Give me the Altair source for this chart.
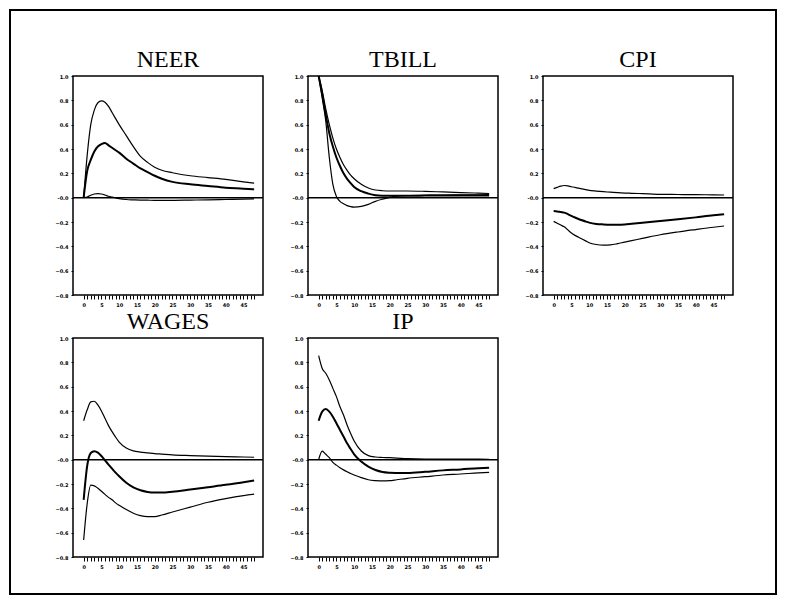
import altair as alt
import pandas as pd

# horizon (months)
X = [0, 1, 2, 3, 4, 5, 6, 7, 8, 9, 10, 12, 14, 16, 18, 20, 22, 25, 30, 35, 40, 45, 48]

TITLES = ["NEER", "TBILL", "CPI", "WAGES", "IP"]

NEER_UPPER = [0.0, 0.35, 0.60, 0.72, 0.78, 0.795, 0.785, 0.75, 0.70, 0.65, 0.60, 0.51, 0.42, 0.34, 0.29, 0.25, 0.225, 0.205, 0.18, 0.165, 0.15, 0.13, 0.12]
NEER_MID = [0.0, 0.22, 0.31, 0.38, 0.42, 0.44, 0.45, 0.43, 0.41, 0.39, 0.37, 0.32, 0.28, 0.24, 0.21, 0.18, 0.156, 0.13, 0.11, 0.096, 0.082, 0.074, 0.068]
NEER_LOWER = [0.0, 0.005, 0.02, 0.03, 0.033, 0.03, 0.022, 0.012, 0.005, -0.002, -0.008, -0.015, -0.018, -0.02, -0.021, -0.022, -0.022, -0.022, -0.02, -0.018, -0.015, -0.012, -0.01]

TBILL_UPPER = [1.0, 0.88, 0.73, 0.60, 0.49, 0.40, 0.33, 0.27, 0.225, 0.185, 0.156, 0.11, 0.08, 0.063, 0.057, 0.055, 0.055, 0.055, 0.052, 0.047, 0.042, 0.037, 0.034]
TBILL_MID = [1.0, 0.85, 0.68, 0.53, 0.42, 0.33, 0.26, 0.20, 0.155, 0.12, 0.088, 0.053, 0.033, 0.02, 0.016, 0.015, 0.015, 0.016, 0.017, 0.018, 0.018, 0.018, 0.018]
TBILL_LOWER = [1.0, 0.82, 0.63, 0.33, 0.11, 0.01, -0.03, -0.05, -0.065, -0.073, -0.077, -0.072, -0.055, -0.03, -0.012, 0.003, 0.012, 0.018, 0.02, 0.022, 0.023, 0.024, 0.025]

CPI_UPPER = [0.074, 0.085, 0.095, 0.10, 0.097, 0.09, 0.085, 0.078, 0.072, 0.066, 0.06, 0.054, 0.049, 0.045, 0.041, 0.038, 0.036, 0.033, 0.027, 0.026, 0.025, 0.023, 0.022]
CPI_MID = [-0.11, -0.113, -0.118, -0.123, -0.135, -0.15, -0.163, -0.175, -0.186, -0.196, -0.205, -0.216, -0.22, -0.222, -0.222, -0.22, -0.215, -0.207, -0.192, -0.178, -0.162, -0.145, -0.137]
CPI_LOWER = [-0.195, -0.21, -0.225, -0.24, -0.265, -0.29, -0.31, -0.325, -0.34, -0.355, -0.37, -0.385, -0.39, -0.388, -0.378, -0.365, -0.353, -0.335, -0.305, -0.282, -0.262, -0.243, -0.233]

WAGES_UPPER = [0.32, 0.41, 0.475, 0.48, 0.45, 0.40, 0.34, 0.28, 0.23, 0.185, 0.145, 0.096, 0.072, 0.062, 0.056, 0.05, 0.046, 0.04, 0.034, 0.029, 0.025, 0.022, 0.02]
WAGES_MID = [-0.33, -0.05, 0.055, 0.07, 0.058, 0.03, -0.005, -0.04, -0.074, -0.107, -0.137, -0.19, -0.228, -0.252, -0.265, -0.27, -0.27, -0.263, -0.245, -0.226, -0.207, -0.185, -0.172]
WAGES_LOWER = [-0.66, -0.36, -0.21, -0.215, -0.235, -0.26, -0.285, -0.31, -0.33, -0.355, -0.375, -0.41, -0.44, -0.46, -0.468, -0.468, -0.455, -0.43, -0.39, -0.35, -0.32, -0.295, -0.283]

IP_UPPER = [0.855, 0.75, 0.71, 0.655, 0.586, 0.518, 0.435, 0.367, 0.285, 0.216, 0.153, 0.071, 0.033, 0.022, 0.018, 0.016, 0.013, 0.008, 0.005, 0.005, 0.005, 0.004, 0.003]
IP_MID = [0.32, 0.395, 0.416, 0.395, 0.353, 0.30, 0.244, 0.19, 0.134, 0.088, 0.044, -0.016, -0.058, -0.085, -0.101, -0.107, -0.109, -0.11, -0.10, -0.088, -0.08, -0.07, -0.066]
IP_LOWER = [0.0, 0.07, 0.044, 0.016, -0.022, -0.045, -0.066, -0.084, -0.10, -0.114, -0.126, -0.148, -0.165, -0.172, -0.175, -0.173, -0.165, -0.153, -0.14, -0.126, -0.118, -0.108, -0.104]

SERIES = [
    (NEER_UPPER, NEER_MID, NEER_LOWER),
    (TBILL_UPPER, TBILL_MID, TBILL_LOWER),
    (CPI_UPPER, CPI_MID, CPI_LOWER),
    (WAGES_UPPER, WAGES_MID, WAGES_LOWER),
    (IP_UPPER, IP_MID, IP_LOWER),
]

X_TICKS = list(range(0, 49))
Y_TICKS = [-0.8, -0.6, -0.4, -0.2, 0.0, 0.2, 0.4, 0.6, 0.8, 1.0]

W, H = 190, 219

xs = alt.Scale(domain=[-3, 50.5], nice=False, zero=False)
ys = alt.Scale(domain=[-0.8, 1.0], nice=False)

X_AXIS = alt.Axis(values=X_TICKS, tickSize=4, tickColor="black",
                  labelExpr="(datum.value % 5 == 0 && datum.value <= 45) ? datum.label : ''",
                  labelFontSize=5, labelFontWeight="bold", labelFont="DejaVu Sans",
                  labelColor="black", labelPadding=3, grid=False, domain=False,
                  labelFlush=False, labelOverlap=False)
Y_AXIS = alt.Axis(values=Y_TICKS, tickSize=2, tickColor="black",
                  labelExpr="datum.value == 0 ? '-0.0' : format(datum.value, '.1f')",
                  labelFontSize=5, labelFontWeight="bold", labelFont="DejaVu Sans",
                  labelColor="black", labelPadding=3, grid=False, domain=False,
                  labelFlush=False, labelOverlap=False, labelSeparation=0)


def panel(title, up, mid, lo, with_frame=False):
    rows = []
    for band, vals in (("upper", up), ("mid", mid), ("lower", lo)):
        for x, v in zip(X, vals):
            rows.append({"x": x, "v": v, "band": band})
    df = pd.DataFrame(rows)

    lines = alt.Chart(df).mark_line(color="black", interpolate="monotone").encode(
        x=alt.X("x:Q", scale=xs, title=None, axis=X_AXIS),
        y=alt.Y("v:Q", scale=ys, title=None, axis=Y_AXIS),
        detail="band:N",
        strokeWidth=alt.condition(alt.datum.band == "mid", alt.value(2.0), alt.value(1.2)),
    )
    zero = alt.Chart(pd.DataFrame({"y": [0.0]})).mark_rule(color="black", strokeWidth=1.5).encode(
        y=alt.Y("y:Q", scale=ys, title=None, axis=Y_AXIS)
    )
    head = alt.Chart(pd.DataFrame({"t": [title]})).mark_text(
        font="Liberation Serif", fontSize=24, color="black", align="center", baseline="alphabetic"
    ).encode(
        text="t:N", x=alt.value(W / 2), y=alt.value(-9)
    )
    layers = [lines, zero, head]
    if with_frame:
        frame = alt.Chart(pd.DataFrame({"a": [0]})).mark_rect(
            filled=False, stroke="black", strokeWidth=2, fill=None
        ).encode(
            x=alt.value(-63), x2=alt.value(703), y=alt.value(-66), y2=alt.value(518)
        )
        layers.append(frame)
    return alt.layer(*layers).properties(width=W, height=H)


panels = [panel(t, *s, with_frame=(i == 0)) for i, (t, s) in enumerate(zip(TITLES, SERIES))]

chart = alt.concat(
    *panels, columns=3, spacing={"row": 43, "column": 45}, bounds="flush"
).properties(
    padding=0, background="white"
).configure_view(
    stroke="black", strokeWidth=1.5
)

chart.save("out.html", embed_options={"renderer": "svg", "actions": False})
